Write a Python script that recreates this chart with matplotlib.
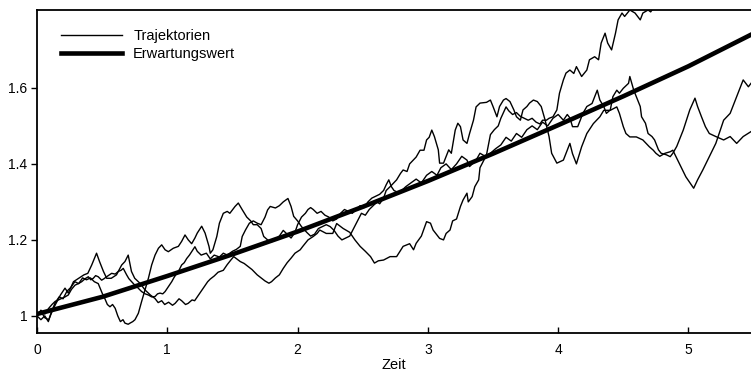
import matplotlib
matplotlib.use("Agg")
import matplotlib.pyplot as plt

plt.rcParams['font.family'] = ['Liberation Sans', 'DejaVu Sans']

# Sample path A
t_a = [0.00, 0.03, 0.06, 0.09, 0.12, 0.14, 0.18, 0.215, 0.24, 0.28, 0.32, 0.36, 0.39, 0.42, 0.457,
       0.48, 0.51, 0.535, 0.57, 0.61, 0.65, 0.675, 0.70, 0.725, 0.75, 0.79, 0.83, 0.87, 0.905, 0.93,
       0.957, 0.98, 1.01, 1.04, 1.06, 1.09, 1.11, 1.14, 1.16, 1.19, 1.21, 1.25, 1.28, 1.31, 1.33,
       1.36, 1.39, 1.43, 1.46, 1.49, 1.51, 1.54, 1.56, 1.59, 1.62, 1.65, 1.69, 1.72, 1.75, 1.78,
       1.80, 1.83, 1.86, 1.89, 1.92, 1.95, 1.98, 2.02, 2.04, 2.08, 2.12, 2.15, 2.17, 2.22, 2.27,
       2.30, 2.35, 2.40, 2.44, 2.48, 2.52, 2.56, 2.59, 2.62, 2.66, 2.71, 2.76, 2.81, 2.86, 2.89,
       2.91, 2.95, 2.99, 3.02, 3.04, 3.09, 3.12, 3.14, 3.17, 3.19, 3.22, 3.25, 3.27, 3.30, 3.31,
       3.34, 3.36, 3.39, 3.40, 3.43, 3.45, 3.48, 3.51, 3.54, 3.56, 3.58, 3.60, 3.62, 3.65, 3.68,
       3.71, 3.74, 3.77, 3.80, 3.83, 3.86, 3.88, 3.91, 3.93, 3.96, 3.99, 4.01, 4.04, 4.06, 4.09,
       4.12, 4.14, 4.18, 4.22, 4.24, 4.28, 4.31, 4.33, 4.36, 4.38, 4.41, 4.44, 4.46, 4.49, 4.51,
       4.55, 4.59, 4.63, 4.65, 4.69, 4.71, 4.73, 4.76]
v_a = [1.000, 1.012, 0.995, 0.990, 1.015, 1.029, 1.055, 1.073, 1.060, 1.090, 1.099, 1.108, 1.112, 1.134, 1.165,
       1.143, 1.117, 1.099, 1.099, 1.108, 1.134, 1.143, 1.160, 1.117, 1.099, 1.086, 1.068, 1.055, 1.046, 1.035,
       1.040, 1.030, 1.036, 1.028, 1.033, 1.045, 1.040, 1.030, 1.033, 1.042, 1.040, 1.060, 1.075, 1.090, 1.097,
       1.105, 1.115, 1.120, 1.135, 1.148, 1.156, 1.148, 1.143, 1.138, 1.130, 1.122, 1.108, 1.100, 1.092, 1.086,
       1.090, 1.100, 1.108, 1.125, 1.140, 1.152, 1.165, 1.174, 1.183, 1.200, 1.209, 1.217, 1.226, 1.217, 1.217,
       1.243, 1.230, 1.220, 1.200, 1.183, 1.170, 1.156, 1.139, 1.145, 1.147, 1.156, 1.156, 1.183, 1.190, 1.174,
       1.191, 1.210, 1.248, 1.244, 1.226, 1.204, 1.200, 1.217, 1.226, 1.250, 1.255, 1.288, 1.305, 1.323, 1.300,
       1.314, 1.340, 1.358, 1.390, 1.410, 1.424, 1.477, 1.490, 1.500, 1.520, 1.535, 1.550, 1.540, 1.530, 1.535,
       1.525, 1.520, 1.515, 1.520, 1.510, 1.505, 1.515, 1.515, 1.520, 1.524, 1.542, 1.586, 1.621, 1.639, 1.647,
       1.638, 1.656, 1.630, 1.647, 1.674, 1.682, 1.674, 1.718, 1.744, 1.718, 1.700, 1.744, 1.779, 1.797, 1.788,
       1.805, 1.797, 1.779, 1.797, 1.805, 1.800, 1.810, 1.830]

# Sample path B
t_b = [0.00, 0.03, 0.06, 0.087, 0.11, 0.14, 0.17, 0.20, 0.23, 0.26, 0.29, 0.32, 0.35, 0.38, 0.41,
       0.44, 0.47, 0.50, 0.52, 0.54, 0.56, 0.58, 0.60, 0.62, 0.64, 0.66, 0.675, 0.70, 0.714, 0.735,
       0.752, 0.778, 0.803, 0.829, 0.855, 0.88, 0.906, 0.932, 0.957, 0.983, 1.008, 1.046, 1.085, 1.11, 1.136,
       1.161, 1.187, 1.212, 1.23, 1.264, 1.29, 1.32, 1.33, 1.35, 1.38, 1.40, 1.43, 1.46, 1.48, 1.52,
       1.545, 1.576, 1.61, 1.64, 1.66, 1.69, 1.72, 1.74, 1.77, 1.80, 1.83, 1.86, 1.89, 1.92, 1.95,
       1.98, 2.00, 2.03, 2.06, 2.08, 2.10, 2.12, 2.15, 2.18, 2.21, 2.24, 2.27, 2.30, 2.33, 2.36,
       2.39, 2.42, 2.45, 2.48, 2.51, 2.54, 2.57, 2.60, 2.63, 2.66, 2.68, 2.70, 2.72, 2.74, 2.77,
       2.79, 2.83, 2.87, 2.91, 2.95, 2.99, 3.03, 3.07, 3.10, 3.14, 3.18, 3.22, 3.26, 3.30, 3.32,
       3.37, 3.40, 3.44, 3.48, 3.52, 3.56, 3.60, 3.64, 3.68, 3.72, 3.76, 3.80, 3.84, 3.88, 3.92,
       3.96, 4.00, 4.04, 4.07, 4.09, 4.11, 4.15, 4.19, 4.22, 4.26, 4.30, 4.32, 4.35, 4.37, 4.40,
       4.42, 4.45, 4.47, 4.50, 4.54, 4.55, 4.58, 4.60, 4.63, 4.64, 4.67, 4.69, 4.72, 4.74, 4.77,
       4.79, 4.83, 4.86, 4.88, 4.91, 4.96, 5.01, 5.05, 5.07, 5.10, 5.13, 5.16, 5.21, 5.27, 5.32,
       5.37, 5.42, 5.48]
v_b = [1.000, 0.990, 1.000, 0.985, 1.010, 1.035, 1.050, 1.045, 1.065, 1.075, 1.090, 1.085, 1.100, 1.095, 1.100,
       1.090, 1.085, 1.060, 1.046, 1.030, 1.024, 1.030, 1.020, 1.000, 0.985, 0.990, 0.981, 0.978, 0.981, 0.985,
       0.990, 1.007, 1.038, 1.068, 1.099, 1.134, 1.160, 1.178, 1.187, 1.174, 1.169, 1.178, 1.183, 1.196, 1.213,
       1.200, 1.190, 1.205, 1.218, 1.236, 1.218, 1.183, 1.165, 1.174, 1.209, 1.244, 1.270, 1.275, 1.270, 1.288,
       1.297, 1.279, 1.260, 1.250, 1.240, 1.240, 1.230, 1.209, 1.200, 1.195, 1.200, 1.210, 1.225, 1.215, 1.205,
       1.220, 1.240, 1.260, 1.270, 1.280, 1.285, 1.280, 1.270, 1.275, 1.265, 1.260, 1.250, 1.255, 1.270, 1.280,
       1.275, 1.270, 1.280, 1.290, 1.285, 1.300, 1.310, 1.315, 1.320, 1.330, 1.345, 1.358, 1.340, 1.330, 1.325,
       1.327, 1.340, 1.350, 1.360, 1.350, 1.370, 1.380, 1.370, 1.390, 1.400, 1.385, 1.400, 1.420, 1.410, 1.393,
       1.410, 1.428, 1.420, 1.428, 1.440, 1.450, 1.470, 1.460, 1.480, 1.470, 1.490, 1.500, 1.490, 1.510, 1.500,
       1.520, 1.530, 1.515, 1.530, 1.521, 1.498, 1.498, 1.533, 1.551, 1.559, 1.594, 1.568, 1.551, 1.533, 1.542,
       1.577, 1.594, 1.586, 1.599, 1.612, 1.630, 1.594, 1.577, 1.551, 1.524, 1.507, 1.480, 1.472, 1.463, 1.437,
       1.428, 1.424, 1.419, 1.428, 1.446, 1.489, 1.542, 1.573, 1.551, 1.524, 1.498, 1.480, 1.472, 1.463, 1.472,
       1.454, 1.472, 1.485]

# Sample path C
t_c = [0.00, 0.03, 0.06, 0.09, 0.115, 0.139, 0.165, 0.19, 0.215, 0.24, 0.265, 0.292, 0.318, 0.343, 0.37,
       0.394, 0.413, 0.432, 0.45, 0.47, 0.496, 0.515, 0.534, 0.555, 0.573, 0.60, 0.624, 0.645, 0.662, 0.688,
       0.705, 0.726, 0.745, 0.765, 0.785, 0.803, 0.83, 0.855, 0.88, 0.906, 0.925, 0.944, 0.965, 0.983, 1.01,
       1.034, 1.05, 1.072, 1.09, 1.11, 1.13, 1.149, 1.17, 1.187, 1.212, 1.23, 1.26, 1.30, 1.33, 1.36,
       1.40, 1.43, 1.46, 1.50, 1.53, 1.56, 1.575, 1.60, 1.63, 1.66, 1.69, 1.72, 1.75, 1.77, 1.79,
       1.83, 1.86, 1.89, 1.926, 1.95, 1.97, 2.00, 2.03, 2.07, 2.10, 2.13, 2.16, 2.19, 2.22, 2.25,
       2.28, 2.31, 2.34, 2.37, 2.40, 2.43, 2.46, 2.49, 2.52, 2.55, 2.58, 2.61, 2.63, 2.66, 2.68,
       2.71, 2.76, 2.79, 2.81, 2.84, 2.86, 2.91, 2.94, 2.97, 2.99, 3.01, 3.03, 3.05, 3.08, 3.09,
       3.12, 3.16, 3.18, 3.21, 3.23, 3.25, 3.27, 3.30, 3.32, 3.35, 3.37, 3.40, 3.45, 3.48, 3.50,
       3.53, 3.55, 3.58, 3.60, 3.63, 3.66, 3.68, 3.71, 3.73, 3.76, 3.78, 3.81, 3.84, 3.87, 3.90,
       3.93, 3.95, 3.99, 4.04, 4.09, 4.11, 4.14, 4.18, 4.22, 4.27, 4.32, 4.35, 4.40, 4.45, 4.47,
       4.50, 4.52, 4.55, 4.60, 4.65, 4.70, 4.73, 4.75, 4.78, 4.82, 4.86, 4.88, 4.93, 4.98, 5.04,
       5.07, 5.11, 5.16, 5.21, 5.27, 5.32, 5.37, 5.42, 5.46, 5.48]
v_c = [1.000, 1.015, 1.005, 1.020, 1.030, 1.038, 1.042, 1.046, 1.050, 1.055, 1.070, 1.081, 1.085, 1.090, 1.098,
       1.103, 1.095, 1.099, 1.106, 1.103, 1.094, 1.098, 1.103, 1.108, 1.112, 1.110, 1.117, 1.120, 1.125, 1.108,
       1.098, 1.090, 1.083, 1.077, 1.070, 1.064, 1.058, 1.055, 1.050, 1.051, 1.058, 1.060, 1.058, 1.064, 1.078,
       1.090, 1.100, 1.112, 1.120, 1.134, 1.140, 1.151, 1.160, 1.169, 1.182, 1.170, 1.160, 1.165, 1.150, 1.160,
       1.155, 1.165, 1.160, 1.170, 1.175, 1.183, 1.209, 1.226, 1.244, 1.250, 1.244, 1.240, 1.260, 1.279, 1.288,
       1.284, 1.290, 1.300, 1.309, 1.288, 1.262, 1.250, 1.235, 1.220, 1.210, 1.215, 1.230, 1.235, 1.240, 1.235,
       1.225, 1.210, 1.200, 1.205, 1.210, 1.230, 1.250, 1.270, 1.265, 1.280, 1.290, 1.300, 1.295, 1.310, 1.330,
       1.340, 1.358, 1.375, 1.384, 1.380, 1.400, 1.418, 1.436, 1.436, 1.463, 1.470, 1.489, 1.472, 1.437, 1.402,
       1.402, 1.437, 1.428, 1.489, 1.507, 1.498, 1.463, 1.454, 1.480, 1.515, 1.550, 1.560, 1.562, 1.568, 1.551,
       1.524, 1.551, 1.568, 1.572, 1.564, 1.542, 1.524, 1.515, 1.542, 1.551, 1.560, 1.568, 1.564, 1.551, 1.515,
       1.472, 1.428, 1.402, 1.410, 1.454, 1.427, 1.400, 1.445, 1.480, 1.506, 1.524, 1.541, 1.541, 1.550, 1.533,
       1.498, 1.480, 1.471, 1.471, 1.463, 1.445, 1.436, 1.428, 1.420, 1.428, 1.432, 1.436, 1.401, 1.366, 1.336,
       1.358, 1.384, 1.419, 1.454, 1.515, 1.533, 1.577, 1.621, 1.603, 1.612]

# Expected value
t_mean = [0.0, 0.5, 1.0, 1.5, 2.0, 2.5, 3.0, 3.5, 4.0, 4.5, 5.0, 5.48]
v_mean = [1.005, 1.050, 1.105, 1.162, 1.222, 1.287, 1.355, 1.427, 1.502, 1.578, 1.657, 1.740]

x_ticks = [0, 1, 2, 3, 4, 5]
x_tick_labels = ["0", "1", "2", "3", "4", "5"]
y_ticks = [1.0, 1.2, 1.4, 1.6]
y_tick_labels = ["1", "1.2", "1.4", "1.6"]

fig = plt.figure(figsize=(7.51, 3.77), dpi=100)
ax = fig.add_axes([37 / 751, 44 / 377, 714 / 751, 323 / 377])

ax.plot(t_a, v_a, color="black", lw=1.0, label="Trajektorien")
ax.plot(t_b, v_b, color="black", lw=1.0)
ax.plot(t_c, v_c, color="black", lw=1.0)
ax.plot(t_mean, v_mean, color="black", lw=3.3, label="Erwartungswert")

ax.set_xlim(0, 5.48)
ax.set_ylim(0.955, 1.805)

for side in ("left", "top", "bottom"):
    ax.spines[side].set_linewidth(1.3)
ax.spines["right"].set_visible(False)

ax.set_xticks(x_ticks)
ax.set_xticklabels(x_tick_labels)
ax.set_yticks(y_ticks)
ax.set_yticklabels(y_tick_labels)
ax.tick_params(axis="x", direction="in", length=4, width=1.0, pad=7, labelsize=10)
ax.tick_params(axis="y", direction="out", length=4, width=1.0, pad=3, labelsize=10)
ax.set_xlabel("Zeit", fontsize=10.5, labelpad=1)

ax.legend(loc="upper left", bbox_to_anchor=(0.0336, 0.941), frameon=False,
          fontsize=10.5, handlelength=4.2, handletextpad=0.75, labelspacing=0.25,
          borderpad=0, borderaxespad=0)

fig.savefig("out.png", dpi=100)
